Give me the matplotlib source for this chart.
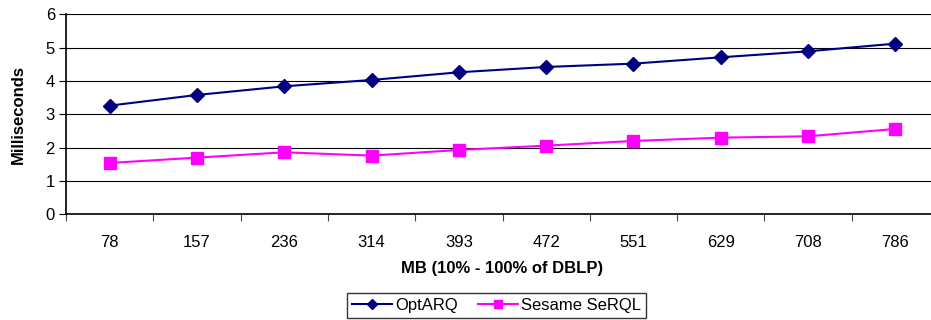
import matplotlib
matplotlib.use("Agg")
import matplotlib.pyplot as plt

plt.rcParams['font.family'] = ['Liberation Sans', 'DejaVu Sans']

# data
sizes_mb = ["78", "157", "236", "314", "393", "472", "551", "629", "708", "786"]
optarq = [3.26, 3.58, 3.84, 4.03, 4.26, 4.42, 4.52, 4.71, 4.89, 5.12]
sesame = [1.54, 1.70, 1.86, 1.76, 1.93, 2.06, 2.20, 2.30, 2.34, 2.56]

W, H = 931, 320
fig = plt.figure(figsize=(W / 100, H / 100), dpi=100)
# plot area runs a bit past the right edge of the picture
left, right, top, bottom = 66, 939, 14.3, 214.3
ax = fig.add_axes([left / W, (H - bottom) / H, (right - left) / W, (bottom - top) / H])

x = range(len(sizes_mb))
ax.plot(x, optarq, color='#000080', lw=1.5, marker='D', ms=7, label='OptARQ')
ax.plot(x, sesame, color='#FF00FF', lw=1.5, marker='s', ms=8.5, label='Sesame SeRQL')

ax.set_xlim(-0.5, len(sizes_mb) - 0.5)
ax.set_ylim(0, 6)
ax.set_yticks(range(0, 7))
ax.yaxis.grid(True, color='black', lw=0.8)
ax.set_axisbelow(True)

# ticks between categories, labels at the centres
ax.set_xticks([i - 0.5 for i in x])
ax.set_xticklabels([])
ax.set_xticks(list(x), minor=True)
ax.set_xticklabels(sizes_mb, minor=True)
ax.tick_params(axis='x', which='major', direction='out', length=5, width=0.8, color='#444444')
ax.tick_params(axis='x', which='minor', length=0, pad=15, labelsize=12)
ax.tick_params(axis='y', direction='out', length=5, width=0.8, labelsize=12, pad=3)

for s in ['top', 'right']:
    ax.spines[s].set_visible(False)
ax.spines['left'].set_linewidth(1.2)
ax.spines['bottom'].set_linewidth(1.2)

fig.text(502 / W, (H - 268) / H, 'MB (10% - 100% of DBLP)', fontsize=12, fontweight='bold',
         ha='center', va='center')
fig.text(18 / W, (H - 114) / H, 'Milliseconds', fontsize=12, fontweight='bold',
         ha='center', va='center', rotation=90)

leg = fig.legend(loc='upper center', bbox_to_anchor=(496.5 / W, (H - 293) / H), ncol=2,
                 fontsize=12, frameon=True, fancybox=False, edgecolor='black',
                 handlelength=2.4, handletextpad=0.2, columnspacing=1.2,
                 borderpad=0.3, borderaxespad=0, markerscale=0.75)
leg.get_frame().set_linewidth(1.0)

fig.savefig('out.png', dpi=100)
